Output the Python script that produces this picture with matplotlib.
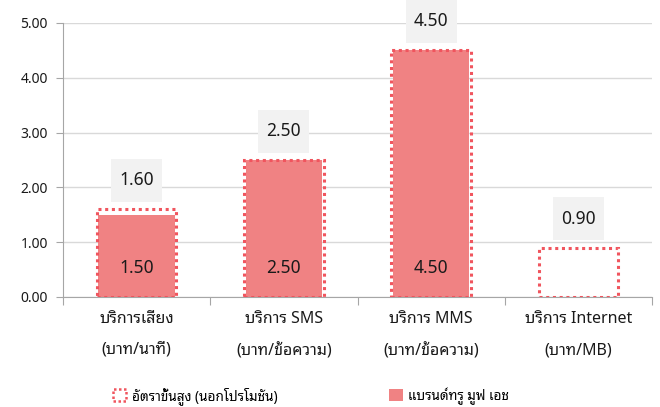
import matplotlib
matplotlib.use("Agg")
import matplotlib.pyplot as plt
from matplotlib import font_manager
from matplotlib.ft2font import FT2Font
from matplotlib.patches import Patch, Rectangle
from matplotlib.transforms import ScaledTranslation
import numpy as np

# ---- data ----
categories = ["บริการเสียง\n(บาท/นาที)", "บริการ SMS\n(บาท/ข้อความ)",
              "บริการ MMS\n(บาท/ข้อความ)", "บริการ Internet\n(บาท/MB)"]
max_rate = [1.60, 2.50, 4.50, 0.90]
brand_rate = [1.50, 2.50, 4.50, np.nan]
series_names = ["อัตราขั้นสูง (นอกโปรโมชัน)", "แบรนด์ทรู มูฟ เอช"]
yticks = [0, 1, 2, 3, 4, 5]

# ---- register Thai fonts ----
for path in font_manager.findSystemFonts():
    try:
        f = FT2Font(path)
        if 0x0E01 in f.get_charmap():
            font_manager.fontManager.addfont(path)
    except Exception:
        pass
plt.rcParams['font.family'] = ['Noto Sans', 'Noto Sans Thai Looped', 'DejaVu Sans']

fill_color = "#F08283"
edge_color = "#F0555E"
text_color = "#1A1A1A"
grid_color = "#D9D9D9"
axis_color = "#A6A6A6"

fig = plt.figure(figsize=(6.6, 4.07), dpi=100)
ax = fig.add_axes([63/660, 1-297/407, (652-63)/660, (297-23)/407])

x = np.arange(len(categories))
w = 0.54
ax.bar(x, max_rate, width=w, facecolor="none", edgecolor=edge_color,
       linestyle=(0, (1, 1.2)), linewidth=2.2, zorder=3)
ax.bar(x, brand_rate, width=w - 0.02, color=fill_color, zorder=2)

box_w, box_h, box_off = 0.51, 0.43, 0.29  # inches
for xi, v in zip(x, max_rate):
    tr = fig.dpi_scale_trans + ScaledTranslation(xi, v, ax.transData)
    ax.add_patch(Rectangle((-box_w / 2, box_off - box_h / 2), box_w, box_h,
                           transform=tr, facecolor="#F2F2F2", edgecolor="none",
                           zorder=4, clip_on=False))
    ax.annotate(f"{v:.2f}", (xi, v), xytext=(0, box_off * 72), textcoords="offset points",
                ha="center", va="center", fontsize=12.5, color=text_color, zorder=5)
for xi, v in zip(x, brand_rate):
    if not np.isnan(v):
        ax.annotate(f"{v:.2f}", (xi, 0), xytext=(0, 21), textcoords="offset points",
                    ha="center", va="center", fontsize=12.5, color=text_color, zorder=5)

ax.set_xlim(-0.5, len(categories) - 0.5)
ax.set_ylim(0, 5)
ax.set_yticks(yticks)
ax.set_yticklabels([f"{t:.2f}" for t in yticks], fontsize=10, color=text_color)
ax.yaxis.grid(True, color=grid_color, linewidth=1)
ax.set_axisbelow(True)
ax.tick_params(axis="y", length=5, color=axis_color, pad=6)

ax.set_xticks(np.arange(-0.5, len(categories)), minor=False)
ax.set_xticklabels([])
ax.set_xticks(x, minor=True)
ax.set_xticklabels(categories, minor=True, fontsize=11.5, color=text_color, linespacing=2.3)
ax.tick_params(axis="x", which="major", length=6, color=axis_color)
ax.tick_params(axis="x", which="minor", length=0, pad=10)

for s in ["top", "right"]:
    ax.spines[s].set_visible(False)
for s in ["left", "bottom"]:
    ax.spines[s].set_color(axis_color)

handles = [Patch(facecolor="none", edgecolor=edge_color, linestyle=(0, (1, 1)), linewidth=1.8),
           Patch(facecolor=fill_color, edgecolor="none")]
fig.legend(handles, series_names, loc="center", bbox_to_anchor=(0.471, 0.027), ncol=2,
           frameon=False, fontsize=9.8, columnspacing=8.2, handlelength=1.0, handleheight=1.0,
           handletextpad=0.4)

fig.savefig("out.png", dpi=100)
